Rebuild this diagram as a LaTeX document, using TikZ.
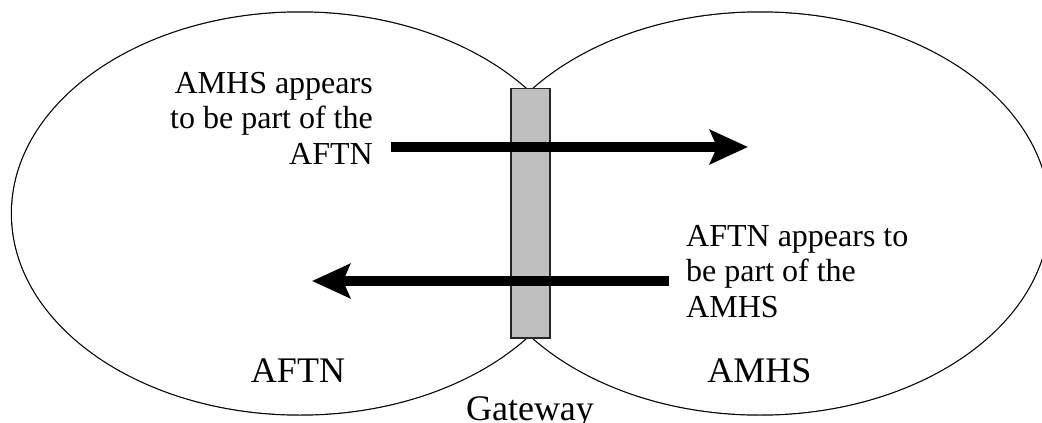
\documentclass[tikz,border=0pt]{standalone}
\usepackage{fontspec}
\setmainfont{Liberation Serif}
\usetikzlibrary{arrows.meta}
\begin{document}
\begin{tikzpicture}[x=1pt,y=-1pt,
  netline/.style={draw=black,line width=2.4pt},
  netfill/.style={fill=white},
  gatebox/.style={draw=black!85,line width=1.3pt,fill=black!25,inner sep=0pt,
    minimum width=39pt,minimum height=249.5pt},
  flowarrow/.style={line width=10pt,-{Stealth[length=38pt,width=34pt,inset=7pt]}},
  notetext/.style={inner sep=0pt,font=\fontsize{32}{35.5}\selectfont},
  netname/.style={inner sep=0pt,anchor=base,font=\fontsize{36}{40}\selectfont}]
\useasboundingbox (0,0) rectangle (1042,423);

% the two networks: outlines first, then white interiors hide the overlap arcs
\draw[netline] (300,213.5) ellipse [x radius=288pt,y radius=201pt];
\draw[netline] (760,213.5) ellipse [x radius=289pt,y radius=201pt];
\fill[netfill] (300,213.5) ellipse [x radius=288pt,y radius=201pt];
\fill[netfill] (760,213.5) ellipse [x radius=289pt,y radius=201pt];

% gateway between them
\node[gatebox] (gw) at (530.5,213.25) {};

% explanatory notes
\node[notetext,anchor=north east,align=right] (n1) at (373,72)
  {AMHS appears\\to be part of the\\AFTN};
\node[notetext,anchor=north west,align=left] (n2) at (686,225)
  {AFTN appears to\\be part of the\\AMHS};

% message flows through the gateway
\coordinate (f1s) at (391,147);
\coordinate (f1e) at (748,147);
\coordinate (f2s) at (669,281);
\coordinate (f2e) at (312,281);
\draw[flowarrow] (f1s) -- (f1e);
\draw[flowarrow] (f2s) -- (f2e);

% network names
\node[netname] (aftn) at (298,382) {AFTN};
\node[netname] (amhs) at (759.5,382) {AMHS};
\node[netname] (gwl) at (530,420) {Gateway};
\end{tikzpicture}
\end{document}
